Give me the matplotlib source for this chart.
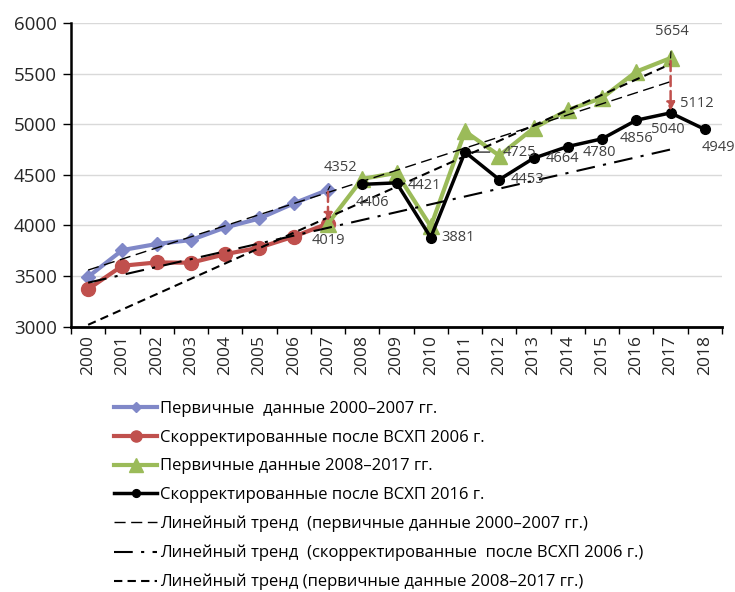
import numpy as np
import matplotlib.pyplot as plt

plt.rcParams['font.family'] = ['Open Sans', 'DejaVu Sans']

years = [str(y) for y in range(2000, 2019)]

# первичные данные 2000-2007
blue_years = list(range(2000, 2008))
blue_vals = [3493, 3757, 3817, 3856, 3980, 4069, 4218, 4352]
# скорректированные после ВСХП 2006
red_years = list(range(2000, 2008))
red_vals = [3371, 3602, 3635, 3632, 3716, 3782, 3890, 4019]
# первичные данные 2008-2017
green_years = list(range(2007, 2018))
green_vals = [4019, 4460, 4520, 3990, 4930, 4690, 4960, 5140, 5260, 5520, 5654]
# скорректированные после ВСХП 2016
black_years = list(range(2008, 2019))
black_vals = [4406, 4421, 3881, 4725, 4453, 4664, 4780, 4856, 5040, 5112, 4949]

labels = ['Первичные  данные 2000–2007 гг.',
          'Скорректированные после ВСХП 2006 г.',
          'Первичные данные 2008–2017 гг.',
          'Скорректированные после ВСХП 2016 г.',
          'Линейный тренд  (первичные данные 2000–2007 гг.)',
          'Линейный тренд  (скорректированные  после ВСХП 2006 г.)',
          'Линейный тренд (первичные данные 2008–2017 гг.)']

c_blue = '#8088C8'
c_red = '#C0504D'
c_green = '#9BBB59'


def xi(ys):
    return np.array(ys) - 2000


fig = plt.figure(figsize=(7.35, 5.92), dpi=100)
ax = fig.add_axes([71 / 735, 1 - 326.7 / 592, 651 / 735, 303.7 / 592])

# trends (fitted like Excel, extended to 2017)
xt = np.arange(0, 18)
p1 = np.polyfit(xi(blue_years), blue_vals, 1)
p2 = np.polyfit(xi(red_years), red_vals, 1)
p3 = np.polyfit(xi(green_years[1:]), green_vals[1:], 1)
t1, = ax.plot(xt, np.polyval(p1, xt), color='black', lw=1.0, dashes=(8, 4), zorder=4)
t2, = ax.plot(xt, np.polyval(p2, xt), color='black', lw=1.5, dashes=(9, 4, 1.5, 4), zorder=4)
t3, = ax.plot(xt, np.polyval(p3, xt), color='black', lw=1.5, dashes=(4, 2.5), zorder=4)

l1, = ax.plot(xi(blue_years), blue_vals, color=c_blue, lw=3, marker='D', ms=7, zorder=3)
l2, = ax.plot(xi(red_years), red_vals, color=c_red, lw=3, marker='o', ms=10, zorder=3)
l3, = ax.plot(xi(green_years), green_vals, color=c_green, lw=3, marker='^', ms=12, zorder=3)
l4, = ax.plot(xi(black_years), black_vals, color='black', lw=2.5, marker='o', ms=7, zorder=5)

# red arrows showing corrections
ax.annotate('', xy=(7, red_vals[-1] + 20), xytext=(7, blue_vals[-1] - 20),
            arrowprops=dict(arrowstyle='-|>', color=c_red, lw=1.8, ls=(0, (4, 2)),
                            mutation_scale=12, shrinkA=0, shrinkB=0), zorder=6)
ax.annotate('', xy=(17, black_vals[9] + 20), xytext=(17, green_vals[-1] - 30),
            arrowprops=dict(arrowstyle='-|>', color=c_red, lw=1.8, ls=(0, (4, 2)),
                            mutation_scale=12, shrinkA=0, shrinkB=0), zorder=6)

# data labels
fs = 10.5
tc = '#404040'


def lab(x, y, dx, dy, leader=False):
    ax.annotate(f'{y}', xy=(x, y), xytext=(dx, dy), textcoords='offset points',
                ha='center', va='center', fontsize=fs, color=tc, zorder=7,
                arrowprops=dict(arrowstyle='-', color='black', lw=0.8,
                                shrinkA=7, shrinkB=0) if leader else None)


lab(7, blue_vals[-1], 9, 16, True)
lab(7, red_vals[-1], 0, -12)
lab(8, black_vals[0], 7, -13)
lab(9, black_vals[1], 20, -2)
lab(10, black_vals[2], 20, 0)
lab(11, black_vals[3], 39, 0, True)
lab(12, black_vals[4], 20, 0)
lab(13, black_vals[5], 21, 0)
lab(14, black_vals[6], 23, -4)
lab(15, black_vals[7], 25, 0, True)
lab(16, black_vals[8], 23, -7, True)
lab(17, black_vals[9], 19, 7)
lab(18, black_vals[10], 10, -13)
lab(17, green_vals[-1], 1, 19, True)

ax.set_xlim(-0.5, 18.5)
ax.set_ylim(3000, 6000)
ax.set_yticks(np.arange(3000, 6001, 500))
ax.set_xticks(np.arange(19))
ax.set_xticklabels(years, rotation=90)
ax.set_xticks(np.arange(-0.5, 19, 1), minor=True)
ax.tick_params(axis='x', which='major', length=0, labelsize=12.5, pad=6, colors='#262626')
ax.tick_params(axis='x', which='minor', length=5, width=1, direction='out')
ax.tick_params(axis='y', length=6, width=1, labelsize=13.5, colors='#262626', pad=4)
ax.tick_params(axis='y', color='black')
ax.grid(axis='y', color='#D9D9D9', lw=1)
ax.set_axisbelow(True)
for s in ['top', 'right']:
    ax.spines[s].set_visible(False)
ax.spines['left'].set_linewidth(1.8)
ax.spines['bottom'].set_linewidth(2)

fig.legend([l1, l2, l3, l4, t1, t2, t3], labels, loc='upper left',
           bbox_to_anchor=(114 / 735, 1 - 401 / 592), frameon=False,
           fontsize=12, handlelength=2.6, handletextpad=0.15, labelspacing=0.76,
           borderpad=0, borderaxespad=0, markerscale=0.8)

fig.savefig('out.png', dpi=100)
